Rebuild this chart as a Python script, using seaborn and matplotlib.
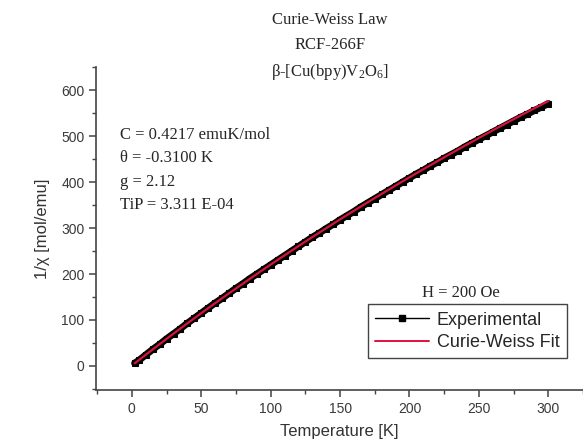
import matplotlib
matplotlib.use("Agg")
import matplotlib.pyplot as plt
import seaborn as sns
import pandas as pd
from matplotlib.ticker import MultipleLocator
from matplotlib.lines import Line2D

# Experimental 1/chi data
temp_exp = [2, 5, 10, 15, 20, 25, 30, 35, 40, 45, 50, 55, 60, 65, 70, 75, 80, 85, 90, 95,
            100, 105, 110, 115, 120, 125, 130, 135, 140, 145, 150, 155, 160, 165, 170, 175,
            180, 185, 190, 195, 200, 205, 210, 215, 220, 225, 230, 235, 240, 245, 250, 255,
            260, 265, 270, 275, 280, 285, 290, 295, 300]
inv_chi_exp = [6, 12, 24, 36, 47, 59, 70, 81, 93, 104, 115, 126, 137, 147, 158, 169, 179, 190,
               200, 210, 220, 230, 240, 250, 260, 270, 280, 289, 299, 308, 318, 327, 336, 346,
               355, 364, 373, 382, 391, 400, 409, 418, 426, 435, 443, 452, 460, 468, 477, 485,
               493, 501, 509, 517, 525, 533, 541, 548, 556, 563, 571]

# Curie-Weiss fit curve
temp_fit = [2, 5, 10, 20, 30, 40, 50, 60, 70, 80, 90, 100, 110, 120, 130, 140, 150, 160, 170,
            180, 190, 200, 210, 220, 230, 240, 250, 260, 270, 280, 290, 300]
inv_chi_fit = [5.5, 12.5, 24.3, 47.4, 70.2, 92.7, 114.8, 136.6, 158.0, 179.1, 200.0, 220.5,
               240.7, 260.7, 280.3, 299.7, 318.9, 337.7, 356.2, 374.5, 392.6, 410.5, 428.0,
               445.4, 462.5, 479.4, 496.0, 512.6, 528.8, 544.8, 560.6, 576.3]

x_ticks = [0, 50, 100, 150, 200, 250, 300]
y_ticks = [0, 100, 200, 300, 400, 500, 600]

sns.set_theme(style="ticks")
plt.rcParams["font.family"] = ["Liberation Sans", "DejaVu Sans"]
plt.rcParams["mathtext.fontset"] = "custom"
plt.rcParams["mathtext.rm"] = "Liberation Serif"
plt.rcParams["mathtext.it"] = "Liberation Serif:italic"

fig = plt.figure(figsize=(5.83, 4.45), dpi=100)
ax = fig.add_axes([0.165, 0.124, 0.835, 0.725])

df_exp = pd.DataFrame({"T": temp_exp, "v": inv_chi_exp})
df_fit = pd.DataFrame({"T": temp_fit, "v": inv_chi_fit})

sns.lineplot(data=df_exp, x="T", y="v", ax=ax, color="black", marker="s", markersize=4.5,
             markeredgecolor="black", linewidth=5, legend=False)
sns.lineplot(data=df_fit, x="T", y="v", ax=ax, color="#d4143c", linewidth=1.6,
             legend=False)

ax.set_xlim(-25.7, 325)
ax.set_ylim(-52, 650)
ax.set_xticks(x_ticks)
ax.set_yticks(y_ticks)
ax.xaxis.set_minor_locator(MultipleLocator(25))
ax.yaxis.set_minor_locator(MultipleLocator(50))
ax.tick_params(which="major", length=5, width=1.1, color="#444444", labelsize=10,
               labelcolor="#3a3a3a", direction="out")
ax.tick_params(which="minor", length=3, width=1.0, color="#444444", direction="out")
for s in ["top", "right"]:
    ax.spines[s].set_visible(False)
for s in ["left", "bottom"]:
    ax.spines[s].set_color("#444444")
    ax.spines[s].set_linewidth(1.2)

ax.set_xlabel("Temperature [K]", fontsize=12, color="#333333", labelpad=6)
ax.set_ylabel("1/χ [mol/emu]", fontsize=12, color="#333333", labelpad=8)

handles = [Line2D([], [], color="black", marker="s", markersize=5, linewidth=1.0),
           Line2D([], [], color="#e01040", linewidth=1.4)]
leg = ax.legend(handles, ["Experimental", "Curie-Weiss Fit"], loc="lower right",
                bbox_to_anchor=(0.985, 0.07), fontsize=13,
                frameon=True, fancybox=False, edgecolor="#444444", framealpha=1,
                handlelength=3.0, borderpad=0.4, labelspacing=0.3, handletextpad=0.4)
leg.get_frame().set_linewidth(1.0)

serif = ["Liberation Serif", "DejaVu Serif"]
fig.text(0.566, 0.955, "Curie-Weiss Law", ha="center", va="center", fontsize=12, family=serif)
fig.text(0.566, 0.898, "RCF-266F", ha="center", va="center", fontsize=12, family=serif)
fig.text(0.566, 0.838, r"β-[Cu(bpy)V$_2$O$_6$]", ha="center", va="center", fontsize=12,
         family=serif)

params = ["C = 0.4217 emuK/mol", "θ = -0.3100 K", "g = 2.12", "TiP = 3.311 E-04"]
for i, line in enumerate(params):
    fig.text(0.205, 1 - (135 + 23.5 * i) / 445, line, ha="left", va="center",
             fontsize=12, family=serif)

fig.text(0.79, 1 - 293 / 445, "H = 200 Oe", ha="center", va="center", fontsize=12,
         family=serif)

fig.savefig("out.png", dpi=100)
